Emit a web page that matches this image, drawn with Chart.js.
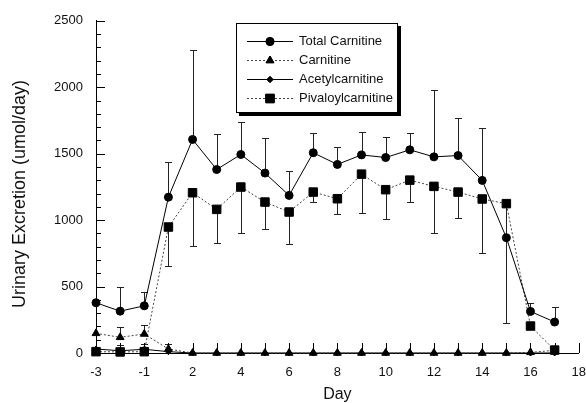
<!DOCTYPE html>
<html>
<head>
<meta charset="utf-8">
<script src="https://cdn.jsdelivr.net/npm/chart.js@4/dist/chart.umd.min.js"></script>
<style>
  html, body { margin: 0; padding: 0; background: #fff; }
  #wrap { width: 586px; height: 403px; }
</style>
</head>
<body>
<div id="wrap"><canvas id="chart" width="586" height="403"></canvas></div>
<script>
// study days (no day 0), every other one gets a label
const days = ['-3', '-2', '-1', '1', '2', '3', '4', '5', '6', '7', '8', '9', '10', '11', '12', '13', '14', '15', '16', '17', '18'];

const totalCarnitine    = [378, 315, 355, 1173, 1607, 1381, 1494, 1354, 1186, 1507, 1419, 1491, 1471, 1529, 1476, 1486, 1299, 868, 313, 233, null];
const carnitine         = [148, 118, 143, 30, 0, 0, 0, 0, 0, 0, 0, 0, 0, 0, 0, 0, 0, 0, 5, 20, null];
const acetylcarnitine   = [30, 17, 28, 10, 0, 0, 0, 0, 0, 0, 0, 0, 0, 0, 0, 0, 0, 0, 0, 0, null];
const pivaloylcarnitine = [10, 8, 10, 948, 1206, 1081, 1249, 1136, 1061, 1211, 1161, 1346, 1229, 1301, 1254, 1211, 1159, 1124, 203, 22, null];

// one-sided error bars (end value of each bar)
const totalUpper     = [null, 493, 460, 1441, 2280, 1649, 1742, 1619, 1366, 1659, 1554, 1662, 1622, 1654, 1982, 1772, 1697, null, 373, 343, null];
const carnitineUpper = [null, 193, 208, 68, null, null, null, null, null, null, null, null, null, null, null, null, null, null, null, null, null];
const acetylUpper    = [null, 60, 68, null, null, null, null, null, null, null, null, null, null, null, null, null, null, null, null, null, null];
const pivaloylLower  = [null, null, null, 653, 808, 828, 903, 936, 823, 1136, 1044, 1056, 1006, 1136, 903, 1014, 753, 228, null, null, null];

const yTitle = 'Urinary Excretion (umol/day)';
const FONT = "'Liberation Sans', Arial, sans-serif";

Chart.defaults.font.family = FONT;
Chart.defaults.color = '#111';

const errorBars = {
  id: 'errorBars',
  beforeDatasetsDraw(chart) {
    const { ctx, scales: { x, y } } = chart;
    const sets = [
      [totalCarnitine, totalUpper],
      [carnitine, carnitineUpper],
      [acetylcarnitine, acetylUpper],
      [pivaloylcarnitine, pivaloylLower]
    ];
    ctx.save();
    ctx.strokeStyle = '#222';
    ctx.lineWidth = 1;
    ctx.beginPath();
    sets.forEach(([vals, ends]) => {
      ends.forEach((end, i) => {
        if (end == null || vals[i] == null) return;
        const px = Math.round(x.getPixelForValue(i)) + 0.5;
        const y0 = y.getPixelForValue(vals[i]);
        const y1 = Math.round(y.getPixelForValue(end)) + 0.5;
        ctx.moveTo(px, y0);
        ctx.lineTo(px, y1);
        ctx.moveTo(px - 3.5, y1);
        ctx.lineTo(px + 3.5, y1);
      });
    });
    ctx.stroke();
    ctx.restore();
  }
};

// tick marks point into the plot area; y title sits a bit below the axis middle
const innerTicks = {
  id: 'innerTicks',
  beforeDatasetsDraw(chart) {
    const { ctx, chartArea: a, scales: { x, y } } = chart;
    ctx.save();
    ctx.strokeStyle = '#000';
    ctx.lineWidth = 1;
    ctx.beginPath();
    days.forEach((d, i) => {
      const px = Math.round(x.getPixelForValue(i)) + 0.5;
      ctx.moveTo(px, a.bottom);
      ctx.lineTo(px, a.bottom - 10);
    });
    for (let v = 0; v <= 2500; v += 100) {
      const py = Math.round(y.getPixelForValue(v)) + 0.5;
      ctx.moveTo(a.left, py);
      ctx.lineTo(a.left + (v % 500 === 0 ? 9 : 5), py);
    }
    ctx.stroke();

    ctx.translate(20, 194);
    ctx.rotate(-Math.PI / 2);
    ctx.font = '18px ' + FONT;
    ctx.fillStyle = '#111';
    ctx.textAlign = 'center';
    ctx.textBaseline = 'middle';
    ctx.fillText(yTitle, 0, 0);
    ctx.restore();
  }
};

// boxed legend with a drop shadow, line + marker samples
const boxLegend = {
  id: 'boxLegend',
  afterDraw(chart) {
    const { ctx } = chart;
    const bx = 236, by = 23, bw = 162, bh = 90;
    ctx.save();
    ctx.fillStyle = '#000';
    ctx.fillRect(bx + 3, by + 3, bw, bh);
    ctx.fillStyle = '#fff';
    ctx.fillRect(bx, by, bw, bh);
    ctx.strokeStyle = '#000';
    ctx.lineWidth = 1;
    ctx.strokeRect(bx + 0.5, by + 0.5, bw - 1, bh - 1);

    ctx.font = '13px ' + FONT;
    ctx.textBaseline = 'middle';
    chart.data.datasets.forEach((ds, i) => {
      const ry = Math.round(by + 18 + i * 19) + 0.5;
      ctx.strokeStyle = ds.borderColor;
      ctx.lineWidth = 1;
      ctx.setLineDash(ds.borderDash || []);
      ctx.beginPath();
      ctx.moveTo(247, ry);
      ctx.lineTo(293, ry);
      ctx.stroke();
      ctx.setLineDash([]);
      Chart.helpers.drawPoint(ctx, {
        pointStyle: ds.pointStyle, radius: ds.pointRadius, rotation: 0, borderWidth: 1
      }, 270, ry);
      ctx.fillStyle = '#000';
      ctx.strokeStyle = '#000';
      ctx.fill();
      ctx.stroke();
      ctx.fillStyle = '#111';
      ctx.fillText(ds.label, 299, ry);
    });
    ctx.restore();
  }
};

function series(label, data, style, radius, dash, color) {
  return {
    label, data,
    borderColor: color, borderWidth: 1, borderDash: dash,
    pointStyle: style, pointRadius: radius,
    pointBackgroundColor: '#000', pointBorderColor: '#000', pointBorderWidth: 1,
    tension: 0, fill: false, clip: false, spanGaps: false
  };
}

new Chart(document.getElementById('chart'), {
  type: 'line',
  data: {
    labels: days,
    datasets: [
      series('Total Carnitine', totalCarnitine, 'circle', 4, [], '#000'),
      series('Carnitine', carnitine, 'triangle', 4.5, [2, 2], '#444'),
      series('Acetylcarnitine', acetylcarnitine, 'rectRot', 3, [], '#000'),
      series('Pivaloylcarnitine', pivaloylcarnitine, 'rect', 6, [2, 2], '#444')
    ]
  },
  options: {
    responsive: false,
    animation: false,
    layout: { padding: { top: 20, right: 6, left: 0, bottom: 0 } },
    plugins: { legend: { display: false }, tooltip: { enabled: false } },
    scales: {
      x: {
        type: 'category',
        // tick marks themselves are drawn inward by innerTicks; tickLength only spaces the labels
        grid: { display: false, drawTicks: true, tickLength: 12 },
        border: { display: true, color: '#000', width: 1 },
        ticks: {
          autoSkip: false, maxRotation: 0, padding: 0,
          font: { size: 13 },
          callback: (v, i) => (i % 2 === 0 ? days[i] : '')
        },
        title: { display: true, text: 'Day', font: { size: 16, lineHeight: 1 }, padding: { top: 4, bottom: 0 } },
        afterFit: s => { s.height = 50; }
      },
      y: {
        min: 0, max: 2500,
        grid: { display: false, drawTicks: false },
        border: { display: true, color: '#000', width: 1 },
        ticks: { stepSize: 500, padding: 13, font: { size: 13 }, callback: v => String(v) },
        afterFit: s => { s.width = 96; }
      }
    }
  },
  plugins: [errorBars, innerTicks, boxLegend]
});
</script>
</body>
</html>
